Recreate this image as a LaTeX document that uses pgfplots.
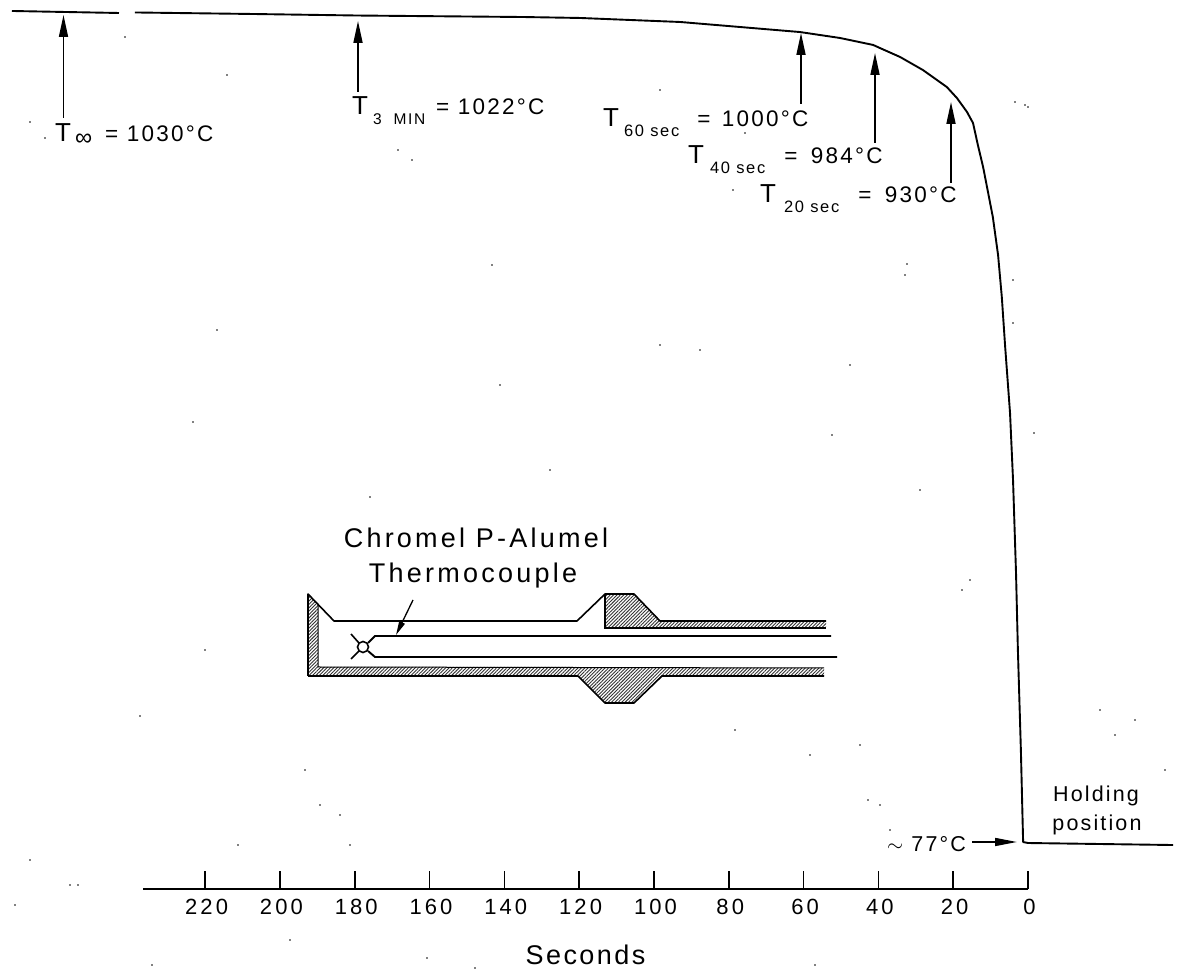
\documentclass[border=0pt]{standalone}
\usepackage{fontspec}
\usepackage{pgfplots}
\pgfplotsset{compat=1.18}
\usetikzlibrary{arrows.meta,patterns.meta}
\setmainfont{Liberation Sans}
\newfontfamily\lsa[LetterSpace=10]{Liberation Sans}
\newfontfamily\lsb[LetterSpace=12]{Liberation Sans}
\newfontfamily\lsc[LetterSpace=9]{Liberation Sans}
\newfontfamily\lsd[LetterSpace=14]{Liberation Sans}
\newcommand{\val}{\lsa\fontsize{22.5}{26}\selectfont}
\newcommand{\vals}{\lsa\fontsize{21.5}{26}\selectfont}
\newcommand{\TT}{{\fontsize{26}{30}\selectfont T}}
\newcommand{\subt}[1]{\raisebox{-10pt}{\lsa\fontsize{15.5}{18}\selectfont #1}}
\newcommand{\subs}[1]{\raisebox{-10pt}{\lsa\fontsize{16.5}{18}\selectfont #1}}
\pgfplotstableread{
x y
271.66 1030.0
243.05 1027.7
}\segA
\pgfplotstableread{
x y
238.8 1028.3
208.0 1026.6
179.1 1024.8
135.0 1023.1
119.8 1022.0
93.0 1017.4
61.0 1005.9
50.3 999.1
41.4 991.1
39.6 987.6
34.2 977.3
28.1 962.4
21.7 942.9
19.0 930.3
16.3 914.3
14.7 901.7
13.4 876.5
12.0 851.3
10.7 822.7
9.4 794.0
8.0 750.5
7.0 702.4
6.1 645.1
4.8 569.5
4.0 492.8
3.2 386.2
2.7 298.0
1.9 183.4
1.3 78.1
0 77
-38.8 74.7
}\segB
\begin{document}
\begin{tikzpicture}
\path[use as bounding box] (0,0) rectangle (1182pt,971pt);
\begin{axis}[at={(0pt,0pt)},anchor=south west,scale only axis,width=1182pt,height=971pt,
  axis lines=none,x dir=reverse,xmin=-41.18,xmax=274.87,ymin=-69.6,ymax=1042.6]
\addplot[black,line width=1.9pt,line join=round] table {\segA};
\addplot[black,line width=1.9pt,line join=round] table {\segB};
\end{axis}
\begin{axis}[at={(143pt,82pt)},anchor=south west,scale only axis,width=885pt,height=18pt,
  x dir=reverse,xmin=0,xmax=236.6,ymin=0,ymax=1,clip=false,
  axis x line=bottom,axis y line=none,x axis line style={-,line width=1.6pt},
  xtick={0,20,...,220},tick align=inside,major tick length=18pt,
  tick style={black,line width=1.6pt},
  xticklabel style={font=\lsd\fontsize{22}{26}\selectfont,/pgf/number format/assume math mode=true,yshift=-7pt,xshift=1.5pt},
  xlabel={Seconds},
  xlabel style={font=\lsc\fontsize{27}{32}\selectfont,anchor=base,at={(axis description cs:0.5,0)},yshift=-75pt}]
\addplot[draw=none] coordinates {(0,0) (220,0)};
\end{axis}
\begin{scope}[x=1pt,y=-1pt,yshift=971pt]
\tikzset{ar/.style={-{Triangle[length=22pt,width=9pt]},line width=1.7pt},
  tx/.style={anchor=base west,inner sep=0pt}}
\draw[ar] (63.5,118)--(63.5,15);
\draw[ar] (358,92)--(358,21);
\draw[ar] (801,104)--(801,33);
\draw[ar] (875,143)--(875,53);
\draw[ar] (951,183)--(951,102);
\draw[-{Triangle[length=22pt,width=8pt]},line width=1.6pt] (972,842)--(1017,842);
\draw[-{Triangle[length=14pt,width=6pt]},line width=1.3pt] (413,600)--(396,635);
\node[tx] at (55,142) {\TT\kern4pt\raisebox{-4pt}{\fontsize{24}{26}\selectfont ∞}\kern13pt\val= 1030°C};
\node[tx] at (352,115) {\TT\kern5pt\subt{3\kern12pt MIN}\kern11pt\val= 1022°C};
\node[tx] at (603,127) {\TT\kern5pt\subs{60 sec}\kern18pt\val=\kern3pt\ 1000°C};
\node[tx] at (688,164) {\TT\kern6pt\subs{40 sec}\kern19pt\val=\kern5pt\ 984°C};
\node[tx] at (760,203) {\TT\kern8pt\subs{20 sec}\kern19pt\val=\kern5pt\ 930°C};
\node[tx] at (887,852) {\vals$\sim$ 77°C};
\node[anchor=base,inner sep=0pt,font=\vals] at (1096,802) {Holding};
\node[anchor=base,inner sep=0pt,font=\vals] at (1097,831) {position};
\node[anchor=base,inner sep=0pt,font=\lsb\fontsize{27}{32}\selectfont] at (476,548) {Chromel P-Alumel};
\node[anchor=base,inner sep=0pt,font=\lsb\fontsize{27}{32}\selectfont] at (473,583) {Thermocouple};
% thermocouple sketch
\tikzset{hat/.style={pattern={Lines[angle=45,distance=2.4pt,line width=.9pt]},pattern color=black!80}}
\fill[hat] (605,594)--(634,594)--(660,621)--(826,621)--(826,628)--(605,628)--cycle;
\fill[hat] (308,594)--(318,605)--(318,667)--(578,667)--(824,668)--(824,676)--(662,676)--(634,703)--(605,703)--(578,676)--(308,676)--cycle;
\draw[line width=1.6pt,line join=round] (308,676)--(308,594)--(334,621)--(577,621)--(605,594)--(634,594)--(660,621)--(826,621);
\draw[line width=1.3pt] (605,594)--(605,628)--(826,628);
\draw[line width=1.6pt,line join=round] (308,676)--(578,676)--(605,703)--(634,703)--(662,676)--(824,676);
\draw[line width=1pt] (318,605)--(318,667)--(824,668);
\draw[line width=1.9pt] (831,636)--(375,636)--(368,643);
\draw[line width=1.9pt] (837,657)--(375,657)--(368,651);
\draw[line width=1.6pt] (363,647) circle (5.5);
\draw[line width=1.6pt] (351,634)--(359,643) (351,659)--(359,651);
% scan specks
\foreach \px/\py in {227/75,125/37,30/122,45/138,398/150,412/160,745/133,660/90,733/190,1015/102,1025/105,1028/107,907/264,905/275,1013/280,1013/323,1034/433,492/265,217/330,370/497,193/422,660/345,850/365,205/650,140/716,305/770,340/815,350/845,320/805,238/845,30/860,70/885,78/885,15/905,152/965,427/958,475/968,1135/720,1100/710,1165/770,1115/735,868/800,890/830,880/805,735/730,810/755,860/745,970/580,962/590,920/490,832/435,700/350,290/940,815/965,500/385,550/470}
  \fill (\px,\py) circle (0.9);
\end{scope}
\end{tikzpicture}
\end{document}
